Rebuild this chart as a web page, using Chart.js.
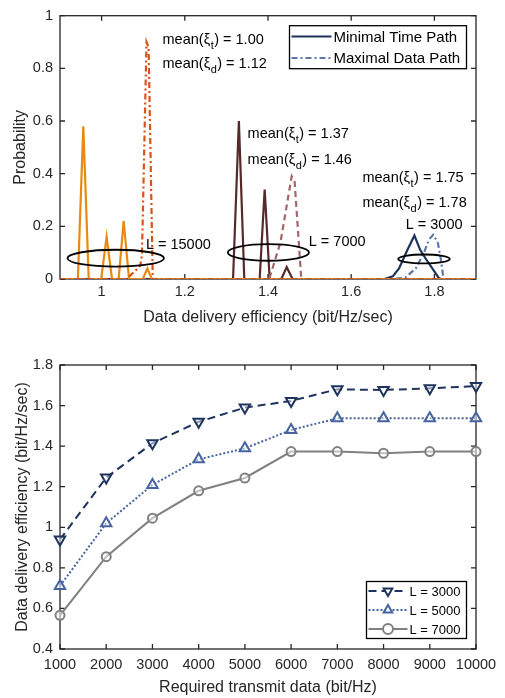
<!DOCTYPE html>
<html>
<head>
<meta charset="utf-8">
<script src="https://cdn.jsdelivr.net/npm/chart.js@4.4.1/dist/chart.umd.min.js"></script>
<style>
body{margin:0;background:#fff;}
#top{position:absolute;left:0;top:0;}
#bottom{position:absolute;left:0;top:340px;}
</style>
</head>
<body>
<canvas id="top" width="505" height="335"></canvas>
<canvas id="bottom" width="505" height="358"></canvas>
<script>
// ---- top plot: probability vs data delivery efficiency ----
const effT15000  = [0.9, 0.943, 0.956, 0.969, 0.999, 1.012, 1.025, 1.041, 1.053, 1.066, 1.099, 1.11, 1.121, 1.9];
const probT15000 = [0,   0,     0.58,  0,     0,     0.16,  0,     0,     0.22,  0,     0,     0.04, 0,     0];
const effD15000  = [0.9, 1.06, 1.08, 1.093, 1.097, 1.108, 1.113, 1.123, 1.9];
const probD15000 = [0,   0,    0.03, 0.05,  0.09,  0.9,   0.88,  0,     0];
const effT7000   = [0.9, 1.316, 1.33, 1.343, 1.38, 1.392, 1.404, 1.432, 1.445, 1.459, 1.9];
const probT7000  = [0,   0,     0.6,  0,     0,    0.34,  0,     0,     0.045, 0,     0];
const effD7000   = [0.9, 1.403, 1.43, 1.457, 1.464, 1.48, 1.9];
const probD7000  = [0,   0,     0.14, 0.39,  0.37,  0,    0];
const effT3000   = [0.9, 1.68, 1.70, 1.715, 1.735, 1.752, 1.766, 1.78, 1.795, 1.81, 1.815, 1.9];
const probT3000  = [0,   0,    0.01, 0.04,  0.11,  0.165, 0.11,  0.075, 0.04, 0.005, 0,   0];
const effD3000   = [0.9, 1.70, 1.73, 1.755, 1.775, 1.787, 1.797, 1.808, 1.815, 1.822, 1.9];
const probD3000  = [0,   0,    0.005, 0.04, 0.10,  0.15,  0.168, 0.14,  0.08,  0,     0];
const xTicksTop = [1, 1.2, 1.4, 1.6, 1.8];
const yTicksTop = [0, 0.2, 0.4, 0.6, 0.8, 1];

// notes on the top plot (data units)
const notes = [
  {x:1.1465, y:0.909, pre:'mean(\u03BE', sub:'t', post:') = 1.00'},
  {x:1.1465, y:0.815, pre:'mean(\u03BE', sub:'d', post:') = 1.12'},
  {x:1.351, y:0.549, pre:'mean(\u03BE', sub:'t', post:') = 1.37'},
  {x:1.351, y:0.451, pre:'mean(\u03BE', sub:'d', post:') = 1.46'},
  {x:1.627, y:0.385, pre:'mean(\u03BE', sub:'t', post:') = 1.75'},
  {x:1.627, y:0.287, pre:'mean(\u03BE', sub:'d', post:') = 1.78'},
  {x:1.731, y:0.204, pre:'L = 3000'},
  {x:1.498, y:0.142, pre:'L = 7000'},
  {x:1.1065, y:0.131, pre:'L = 15000'}
];
const rings = [
  {x:1.034, y:0.079, rx:0.116, ry:0.032},
  {x:1.401, y:0.101, rx:0.0976, ry:0.0316},
  {x:1.775, y:0.076, rx:0.062, ry:0.017}
];

// ---- bottom plot: efficiency vs required data ----
const reqData = [1000, 2000, 3000, 4000, 5000, 6000, 7000, 8000, 9000, 10000];
const effL3000 = [0.94, 1.245, 1.414, 1.52, 1.59, 1.623, 1.68, 1.677, 1.685, 1.696];
const effL5000 = [0.711, 1.02, 1.209, 1.335, 1.389, 1.48, 1.537, 1.537, 1.537, 1.537];
const effL7000 = [0.566, 0.855, 1.045, 1.18, 1.243, 1.373, 1.373, 1.365, 1.373, 1.373];
const yTicksBot = [0.4, 0.6, 0.8, 1, 1.2, 1.4, 1.6, 1.8];

const FONT = '"Liberation Sans", Arial, Helvetica, sans-serif';
const INK = '#262626';
const ORANGE = 'rgb(232,138,18)', RED = 'rgb(217,83,25)';
const BROWN = 'rgb(84,42,42)', ROSE = 'rgb(163,102,102)';
const NAVY = 'rgb(30,52,92)', SKY = 'rgb(92,118,170)';
const BLUE = 'rgb(70,100,160)', GREY = 'rgb(128,128,128)';
const DASHDOT = [6, 3, 2, 3];

function pts(xs, ys) { return xs.map((x, i) => ({x: x, y: ys[i]})); }
function fmt(v) { return String(Number(v.toFixed(1))); }
function fixTicks(arr) { return s => { s.ticks = arr.map(v => ({value: v})); }; }

// matlab-ish box with inward ticks
const axisBox = {
  id: 'axisBox',
  beforeDatasetsDraw(chart) {
    const {ctx, chartArea: a, scales} = chart;
    ctx.save();
    ctx.strokeStyle = INK;
    ctx.lineWidth = 1.3;
    ctx.strokeRect(a.left, a.top, a.right - a.left, a.bottom - a.top);
    ctx.beginPath();
    scales.x.ticks.forEach(t => {
      const p = scales.x.getPixelForValue(t.value);
      ctx.moveTo(p, a.bottom); ctx.lineTo(p, a.bottom - 5);
      ctx.moveTo(p, a.top); ctx.lineTo(p, a.top + 5);
    });
    scales.y.ticks.forEach(t => {
      const p = scales.y.getPixelForValue(t.value);
      ctx.moveTo(a.left, p); ctx.lineTo(a.left + 5, p);
      ctx.moveTo(a.right, p); ctx.lineTo(a.right - 5, p);
    });
    ctx.stroke();
    ctx.restore();
  }
};

const topNotes = {
  id: 'topNotes',
  afterDatasetsDraw(chart) {
    const {ctx, scales: {x, y}} = chart;
    ctx.save();
    ctx.strokeStyle = '#000';
    ctx.lineWidth = 1.8;
    rings.forEach(r => {
      const cx = x.getPixelForValue(r.x), cy = y.getPixelForValue(r.y);
      const rx = x.getPixelForValue(r.x + r.rx) - cx;
      const ry = cy - y.getPixelForValue(r.y + r.ry);
      ctx.beginPath();
      ctx.ellipse(cx, cy, rx, ry, 0, 0, Math.PI * 2);
      ctx.stroke();
    });
    ctx.fillStyle = '#000';
    ctx.textBaseline = 'middle';
    notes.forEach(n => {
      let px = x.getPixelForValue(n.x);
      const py = y.getPixelForValue(n.y);
      ctx.font = '14.5px ' + FONT;
      ctx.fillText(n.pre, px, py);
      if (!n.sub) return;
      px += ctx.measureText(n.pre).width;
      ctx.font = '11px ' + FONT;
      ctx.fillText(n.sub, px + 0.5, py + 6);
      px += ctx.measureText(n.sub).width + 1;
      ctx.font = '14.5px ' + FONT;
      ctx.fillText(n.post, px, py);
    });
    ctx.restore();
  }
};

// legend drawn inside the axes
function boxLegend(id, items, w, h, corner, font, lineLen) {
  return {
    id: id,
    afterDraw(chart) {
      const {ctx, chartArea: a} = chart;
      const left = a.right - 9.5 - w;
      const top = corner === 'top' ? a.top + 10 : a.bottom - 10.5 - h;
      ctx.save();
      ctx.fillStyle = '#fff';
      ctx.fillRect(left, top, w, h);
      ctx.strokeStyle = '#000';
      ctx.lineWidth = 1.3;
      ctx.strokeRect(left, top, w, h);
      const step = h / items.length;
      items.forEach((it, i) => {
        const cy = top + step * (i + 0.5);
        ctx.strokeStyle = it.color;
        ctx.lineWidth = 2;
        ctx.setLineDash(it.dash || []);
        ctx.beginPath();
        ctx.moveTo(left + 2, cy);
        ctx.lineTo(left + 2 + lineLen, cy);
        ctx.stroke();
        ctx.setLineDash([]);
        if (it.marker) {
          ctx.fillStyle = '#fff';
          Chart.helpers.drawPoint(ctx, {pointStyle: it.marker, radius: 5, rotation: it.rot || 0, borderWidth: 2},
            left + 2 + lineLen / 2, cy);
        }
        ctx.fillStyle = '#000';
        ctx.font = font + ' ' + FONT;
        ctx.textBaseline = 'middle';
        ctx.fillText(it.label, left + 4 + lineLen, cy + 1);
      });
      ctx.restore();
    }
  };
}

Chart.defaults.font.family = FONT;
Chart.defaults.color = INK;
Chart.defaults.animation = false;

function line(xs, ys, color, dash) {
  return {data: pts(xs, ys), borderColor: color, borderWidth: 2.2, borderDash: dash,
    pointRadius: 0, tension: 0, fill: false};
}

new Chart(document.getElementById('top'), {
  type: 'line',
  data: {
    datasets: [
      line(effD15000, probD15000, RED, DASHDOT),
      line(effT15000, probT15000, ORANGE, []),
      line(effD7000, probD7000, ROSE, [6, 4]),
      line(effT7000, probT7000, BROWN, []),
      line(effD3000, probD3000, SKY, DASHDOT),
      line(effT3000, probT3000, NAVY, [])
    ]
  },
  options: {
    responsive: false,
    devicePixelRatio: 1,
    layout: {padding: {left: 0, right: 29, top: 4, bottom: 0}},
    plugins: {legend: {display: false}, tooltip: {enabled: false}},
    scales: {
      x: {
        type: 'linear', min: 0.9, max: 1.9,
        afterBuildTicks: fixTicks(xTicksTop),
        afterFit: s => { s.height = 56; },
        grid: {display: false, drawTicks: false}, border: {display: false},
        ticks: {font: {size: 14.5}, padding: 4, callback: fmt, maxRotation: 0, autoSkip: false},
        title: {display: true, text: 'Data delivery efficiency (bit/Hz/sec)', font: {size: 16}, padding: {top: 0, bottom: 8}}
      },
      y: {
        min: 0, max: 1,
        afterBuildTicks: fixTicks(yTicksTop),
        afterFit: s => { s.width = 60; },
        grid: {display: false, drawTicks: false}, border: {display: false},
        ticks: {font: {size: 14.5}, padding: 7, callback: fmt},
        title: {display: true, text: 'Probability', font: {size: 16}, padding: {top: 11, bottom: 0}}
      }
    }
  },
  plugins: [axisBox, topNotes, boxLegend('topLegend', [
    {label: 'Minimal Time Path', color: NAVY},
    {label: 'Maximal Data Path', color: SKY, dash: DASHDOT}
  ], 177, 43, 'top', '15px', 40)]
});

function series(ys, color, dash, marker, rot) {
  return {data: pts(reqData, ys), borderColor: color, borderWidth: 2, borderDash: dash,
    pointStyle: marker, pointRotation: rot || 0, pointRadius: marker === 'circle' ? 4.5 : 6,
    pointBorderWidth: 2, pointBorderColor: color, pointBackgroundColor: 'rgba(255,255,255,0.5)',
    tension: 0, fill: false, clip: false};
}

new Chart(document.getElementById('bottom'), {
  type: 'line',
  data: {
    datasets: [
      series(effL3000, NAVY, [8, 5], 'triangle', 180),
      series(effL5000, BLUE, [2, 2], 'triangle'),
      series(effL7000, GREY, [], 'circle')
    ]
  },
  options: {
    responsive: false,
    devicePixelRatio: 1,
    layout: {padding: {left: 0, right: 29, top: 25, bottom: 0}},
    plugins: {legend: {display: false}, tooltip: {enabled: false}},
    scales: {
      x: {
        type: 'linear', min: 1000, max: 10000,
        afterBuildTicks: fixTicks(reqData),
        afterFit: s => { s.height = 49; },
        grid: {display: false, drawTicks: false}, border: {display: false},
        ticks: {font: {size: 14.5}, padding: 7, maxRotation: 0, minRotation: 0, autoSkip: false,
          callback: v => String(v)},
        title: {display: true, text: 'Required transmit data (bit/Hz)', font: {size: 16}, padding: {top: 0, bottom: 1}}
      },
      y: {
        min: 0.4, max: 1.8,
        afterBuildTicks: fixTicks(yTicksBot),
        afterFit: s => { s.width = 60; },
        grid: {display: false, drawTicks: false}, border: {display: false},
        ticks: {font: {size: 14.5}, padding: 7, callback: fmt},
        title: {display: true, text: 'Data delivery efficiency (bit/Hz/sec)', font: {size: 16}, padding: {top: 13, bottom: 0}}
      }
    }
  },
  plugins: [axisBox, boxLegend('botLegend', [
    {label: 'L = 3000', color: NAVY, dash: [8, 5], marker: 'triangle', rot: 180},
    {label: 'L = 5000', color: BLUE, dash: [2, 2], marker: 'triangle'},
    {label: 'L = 7000', color: GREY, marker: 'circle'}
  ], 100, 57, 'bottom', '13px', 39)]
});
</script>
</body>
</html>
